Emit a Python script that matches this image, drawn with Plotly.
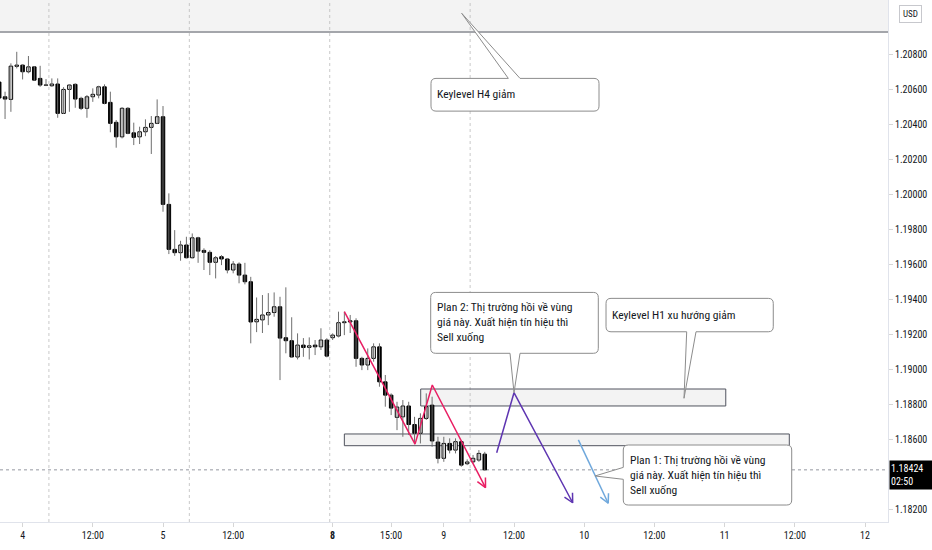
import math
import plotly.graph_objects as go

# ---------------- data (EURUSD, H1, UTC+7; bar 0 = 4 Mar 00:00) ----------------
bar_index = list(range(-4, 80))
open_ = [1.20640, 1.20556, 1.20541, 1.20730, 1.20737, 1.20699, 1.20727, 1.20661, 1.20622, 1.20619,
         1.20629, 1.20461, 1.20598, 1.20627, 1.20547, 1.20490, 1.20556, 1.20566, 1.20613, 1.20524,
         1.20410, 1.20327, 1.20490, 1.20350, 1.20327, 1.20356, 1.20381, 1.20404, 1.20442, 1.19941,
         1.19684, 1.19665, 1.19709, 1.19636, 1.19750, 1.19678, 1.19667, 1.19610, 1.19642, 1.19629,
         1.19566, 1.19600, 1.19537, 1.19499, 1.19270, 1.19281, 1.19309, 1.19323, 1.19356, 1.19179,
         1.19162, 1.19069, 1.19137, 1.19124, 1.19137, 1.19127, 1.19166, 1.19179, 1.19189, 1.19265,
         1.19269, 1.19276, 1.19061, 1.19023, 1.19061, 1.19127, 1.18927, 1.18851, 1.18724, 1.18727,
         1.18789, 1.18683, 1.18633, 1.18718, 1.18794, 1.18583, 1.18490, 1.18575, 1.18537, 1.18585,
         1.18459, 1.18470, 1.18480, 1.18514]
high = [1.20663, 1.20585, 1.20747, 1.20813, 1.20741, 1.20789, 1.20731, 1.20733, 1.20657, 1.20661,
        1.20661, 1.20611, 1.20627, 1.20633, 1.20556, 1.20566, 1.20604, 1.20619, 1.20627, 1.20585,
        1.20423, 1.20497, 1.20497, 1.20408, 1.20385, 1.20427, 1.20446, 1.20541, 1.20503, 1.20004,
        1.19794, 1.19733, 1.19756, 1.19775, 1.19756, 1.19690, 1.19679, 1.19646, 1.19651, 1.19634,
        1.19617, 1.19610, 1.19607, 1.19527, 1.19409, 1.19423, 1.19434, 1.19438, 1.19413, 1.19467,
        1.19296, 1.19204, 1.19177, 1.19181, 1.19166, 1.19233, 1.19176, 1.19204, 1.19328, 1.19328,
        1.19309, 1.19290, 1.19070, 1.19118, 1.19147, 1.19147, 1.18966, 1.18861, 1.18813, 1.18823,
        1.18813, 1.18727, 1.18747, 1.18861, 1.18842, 1.18613, 1.18613, 1.18604, 1.18604, 1.18594,
        1.18484, 1.18509, 1.18537, 1.18527]
low = [1.20537, 1.20429, 1.20470, 1.20718, 1.20655, 1.20690, 1.20649, 1.20613, 1.20617, 1.20613,
       1.20436, 1.20458, 1.20470, 1.20493, 1.20480, 1.20436, 1.20527, 1.20547, 1.20513, 1.20353,
       1.20265, 1.20318, 1.20342, 1.20280, 1.20286, 1.20331, 1.20229, 1.20400, 1.19899, 1.19657,
       1.19647, 1.19619, 1.19633, 1.19633, 1.19607, 1.19566, 1.19537, 1.19518, 1.19594, 1.19547,
       1.19547, 1.19490, 1.19484, 1.19147, 1.19211, 1.19206, 1.19251, 1.19299, 1.18937, 1.19090,
       1.19067, 1.19055, 1.19070, 1.19055, 1.19080, 1.19109, 1.19067, 1.19166, 1.19181, 1.19194,
       1.19206, 1.19013, 1.18994, 1.18994, 1.19042, 1.18899, 1.18785, 1.18737, 1.18651, 1.18613,
       1.18623, 1.18571, 1.18575, 1.18709, 1.18556, 1.18461, 1.18470, 1.18518, 1.18518, 1.18442,
       1.18451, 1.18461, 1.18470, 1.18420]
close = [1.20549, 1.20543, 1.20731, 1.20737, 1.20699, 1.20727, 1.20651, 1.20623, 1.20623, 1.20629,
         1.20461, 1.20598, 1.20623, 1.20543, 1.20490, 1.20556, 1.20570, 1.20613, 1.20518, 1.20404,
         1.20327, 1.20490, 1.20347, 1.20324, 1.20356, 1.20381, 1.20404, 1.20442, 1.19941, 1.19684,
         1.19665, 1.19709, 1.19636, 1.19750, 1.19674, 1.19667, 1.19610, 1.19636, 1.19629, 1.19566,
         1.19600, 1.19537, 1.19499, 1.19269, 1.19284, 1.19309, 1.19323, 1.19356, 1.19177, 1.19162,
         1.19069, 1.19137, 1.19123, 1.19133, 1.19127, 1.19166, 1.19074, 1.19194, 1.19265, 1.19270,
         1.19276, 1.19061, 1.19023, 1.19061, 1.19127, 1.18927, 1.18851, 1.18777, 1.18783, 1.18789,
         1.18683, 1.18633, 1.18718, 1.18785, 1.18589, 1.18490, 1.18575, 1.18537, 1.18585, 1.18451,
         1.18469, 1.18490, 1.18518, 1.18424]

x_tick_vals = [0, 12, 24, 36, 53, 63, 72, 84, 96, 108, 120, 132, 144]
x_tick_text = ["4", "12:00", "5", "12:00", "<b>8</b>", "15:00", "9", "12:00",
               "10", "12:00", "11", "12:00", "12"]
y_tick_vals = [1.182, 1.186, 1.188, 1.190, 1.192, 1.194, 1.196, 1.198,
               1.200, 1.202, 1.204, 1.206, 1.208]
session_breaks = [4.5, 28.5, 52.5, 76.5]
last_price = 1.18424
countdown = "02:50"
currency = "USD"

# drawings (bar index, price)
h4_zone = (-10, 170, 1.20926, 1.21300)
h1_zone = (68.05, 120.2, 1.18789, 1.18886)
low_zone = (55.0, 131.06, 1.18562, 1.18629)
pink_x = [55.0, 67.08, 70.03, 79.13]
pink_y = [1.19328, 1.18571, 1.18909, 1.18323]
purple_x = [81.04, 84.0, 94.03]
purple_y = [1.18522, 1.18865, 1.18236]
blue_x = [95.0, 100.1]
blue_y = [1.18595, 1.18233]

callouts = [
    dict(box=(69.81, 98.53, 1.20474, 1.20661), side="top", base=(83.03, 85.03), tip=(75.06, 1.21033),
         text="Keylevel H4 giảm", tx=70.45, ty=1.20571),
    dict(box=(69.76, 98.41, 1.19090, 1.19438), side="bottom", base=(83.32, 85.03), tip=(84.0, 1.18865),
         text="Plan 2: Thị trường hồi về vùng<br>giá này. Xuất hiện tín hiệu thì<br>Sell xuống",
         tx=70.45, ty=1.19271),
    dict(box=(99.73, 128.32, 1.19213, 1.19404), side="bottom", base=(113.52, 115.11), tip=(113.06, 1.18833),
         text="Keylevel H1 xu hướng giảm", tx=100.36, ty=1.19309),
    dict(box=(102.68, 131.47, 1.18223, 1.18566), side="left", base=(1.18370, 1.18438), tip=(97.85, 1.18389),
         text="Plan 1: Thị trường hồi về vùng<br>giá này. Xuất hiện tín hiệu thì<br>Sell xuống",
         tx=103.45, ty=1.18394),
]

# ---------------- layout geometry ----------------
W, H = 932, 550
M_L, M_R, M_T, M_B = 0, 44, 0, 28
PW, PH = W - M_L - M_R, H - M_T - M_B
x_range = [-3.863, 147.93]
y_range = [1.18126, 1.21109]
px_x = PW / (x_range[1] - x_range[0])
px_y = PH / (y_range[1] - y_range[0])

FONT = "Liberation Sans Narrow, Arial Narrow, Roboto Condensed, Roboto, Arial"
TXT = "#131722"

fig = go.Figure()

# wicks
wx, wy = [], []
for i, h_, l_ in zip(bar_index, high, low):
    wx += [i, i, None]
    wy += [l_, h_, None]
fig.add_trace(go.Scatter(x=wx, y=wy, mode="lines", line=dict(color="#6f6f6f", width=1),
                         hoverinfo="skip"))
# bodies
base = [min(o, c) for o, c in zip(open_, close)]
size = [max(abs(c - o), 0.000015) for o, c in zip(open_, close)]
colors = ["#ffffff" if c >= o else "#000000" for o, c in zip(open_, close)]
fig.add_trace(go.Bar(x=bar_index, y=size, base=base, width=0.6,
                     marker=dict(color=colors, line=dict(color="#000000", width=1)),
                     hoverinfo="skip"))


def arrow_head(xs, ys, length=10, ang_deg=27):
    x1, y1, x0, y0 = xs[-1], ys[-1], xs[-2], ys[-2]
    dx, dy = (x1 - x0) * px_x, (y1 - y0) * px_y
    a = math.atan2(dy, dx)
    pts = []
    for s in (1, -1):
        b = a + math.pi + s * math.radians(ang_deg)
        pts.append((x1 + length * math.cos(b) / px_x, y1 + length * math.sin(b) / px_y))
    return [pts[0][0], x1, pts[1][0]], [pts[0][1], y1, pts[1][1]]


for xs, ys, col in [(pink_x, pink_y, "#e91e63"), (purple_x, purple_y, "#5e35b1"),
                    (blue_x, blue_y, "#6fa8dc")]:
    fig.add_trace(go.Scatter(x=xs, y=ys, mode="lines", line=dict(color=col, width=1.5),
                             hoverinfo="skip"))
    hx, hy = arrow_head(xs, ys)
    fig.add_trace(go.Scatter(x=hx, y=hy, mode="lines", line=dict(color=col, width=1.5),
                             hoverinfo="skip"))

shapes = []
for (x0, x1, y0, y1) in [h4_zone, h1_zone, low_zone]:
    shapes.append(dict(type="rect", xref="x", yref="y", x0=x0, x1=x1, y0=y0, y1=y1,
                       fillcolor="rgba(190,190,190,0.18)", line=dict(color="#50535e", width=1),
                       layer="below"))
for sb in session_breaks:
    shapes.append(dict(type="line", xref="x", yref="paper", x0=sb, x1=sb, y0=0, y1=1,
                       line=dict(color="#c9c9c9", width=1, dash="dot"), layer="below"))
shapes.append(dict(type="line", xref="paper", yref="y", x0=0, x1=1, y0=last_price, y1=last_price,
                   line=dict(color="#9598a1", width=1, dash="dot"), layer="below"))


def callout_path(c, r=5):
    x0, x1, y0, y1 = c["box"]
    rx, ry = r / px_x, r / px_y
    side, (b1, b2), (tx, ty) = c["side"], c["base"], c["tip"]
    p = [f"M{x0 + rx},{y1}"]
    if side == "top":
        p += [f"L{b1},{y1}", f"L{tx},{ty}", f"L{b2},{y1}"]
    p += [f"L{x1 - rx},{y1}", f"Q{x1},{y1} {x1},{y1 - ry}", f"L{x1},{y0 + ry}",
          f"Q{x1},{y0} {x1 - rx},{y0}"]
    if side == "bottom":
        p += [f"L{b2},{y0}", f"L{tx},{ty}", f"L{b1},{y0}"]
    p += [f"L{x0 + rx},{y0}", f"Q{x0},{y0} {x0},{y0 + ry}"]
    if side == "left":
        p += [f"L{x0},{b1}", f"L{tx},{ty}", f"L{x0},{b2}"]
    p += [f"L{x0},{y1 - ry}", f"Q{x0},{y1} {x0 + rx},{y1}", "Z"]
    return " ".join(p)


annotations = []
for c in callouts:
    shapes.append(dict(type="path", xref="x", yref="y", path=callout_path(c),
                       fillcolor="#ffffff", line=dict(color="#8c8c8c", width=1), layer="above"))
    annotations.append(dict(x=c["tx"], y=c["ty"], xref="x", yref="y", text=c["text"],
                            showarrow=False, xanchor="left", yanchor="middle", align="left",
                            font=dict(family=FONT, size=11.6, color=TXT)))

# price label on axis
annotations.append(dict(x=(PW + 1) / PW, y=last_price, xref="paper", yref="y",
                        text=f"{last_price:.5f}<br>{countdown}", showarrow=False,
                        xanchor="left", yanchor="middle", yshift=-5, align="left",
                        bgcolor="#000000", width=40, height=26, borderpad=1,
                        font=dict(family=FONT, size=10, color="#ffffff")))
# currency badge
annotations.append(dict(x=(PW + 22) / PW, y=1 - 14 / PH, xref="paper", yref="paper",
                        text=currency, showarrow=False, xanchor="center", yanchor="middle",
                        bordercolor="#c7c8cd", borderwidth=1, borderpad=3, bgcolor="#ffffff",
                        font=dict(family=FONT, size=9, color=TXT)))

fig.update_layout(
    width=W, height=H, margin=dict(l=M_L, r=M_R, t=M_T, b=M_B, autoexpand=False),
    paper_bgcolor="#ffffff", plot_bgcolor="#ffffff", showlegend=False,
    shapes=shapes, annotations=annotations, bargap=0, hovermode=False,
    xaxis=dict(range=x_range, tickvals=x_tick_vals, ticktext=x_tick_text, showgrid=False,
               zeroline=False, showline=True, linecolor="#e0e3eb", ticks="outside", ticklen=4,
               tickcolor="#d6d6d6", tickfont=dict(family=FONT, size=10, color=TXT), fixedrange=True),
    yaxis=dict(range=y_range, side="right", tickvals=y_tick_vals, tickformat=".5f", showgrid=False,
               zeroline=False, showline=True, linecolor="#e0e3eb", ticks="outside", ticklen=4,
               tickcolor="#d6d6d6", tickfont=dict(family=FONT, size=10, color=TXT), fixedrange=True),
)

fig.write_html("out.html", config={"displayModeBar": False, "staticPlot": True},
               post_script="document.body.style.margin='0';document.body.style.overflow='hidden';")
